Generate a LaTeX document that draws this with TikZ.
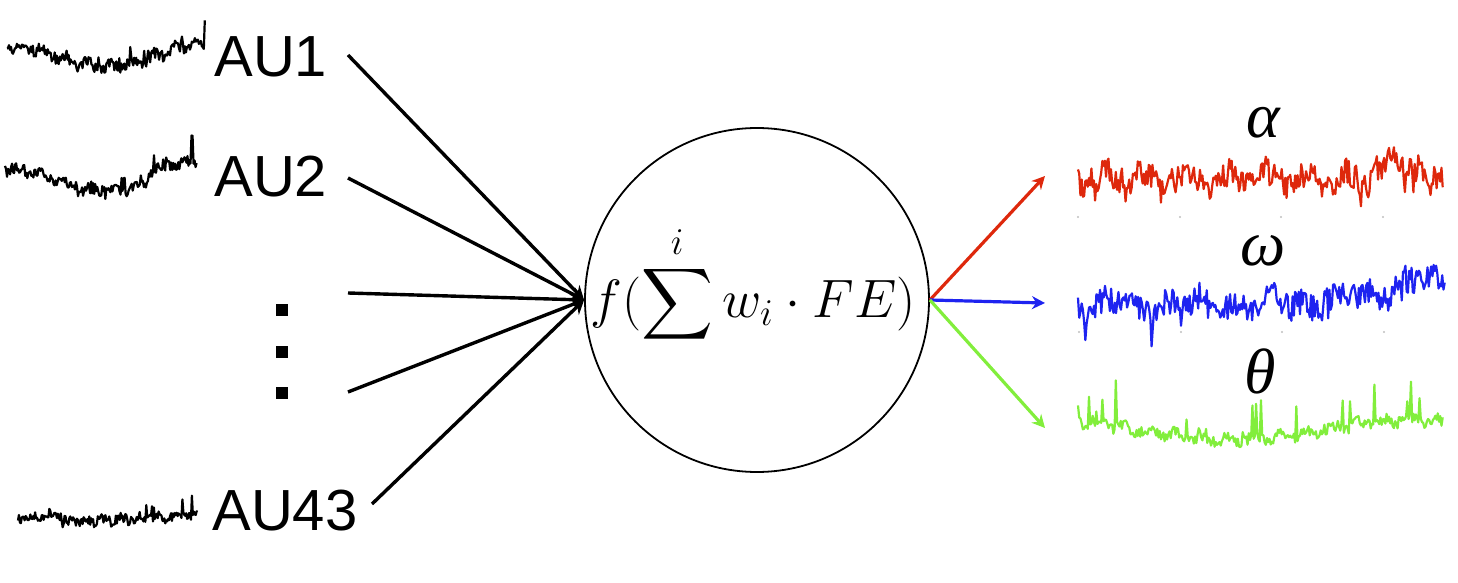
\RequirePackage{fix-cm}
\documentclass[tikz,border=0pt]{standalone}
\usepackage{amsmath}
\usepackage{fontspec}
\newfontfamily\ausans{Liberation Sans}
\newfontfamily\grk{Liberation Serif}
\usetikzlibrary{arrows.meta}
\definecolor{outred}{RGB}{222,40,12}
\definecolor{outblue}{RGB}{30,35,240}
\definecolor{outgreen}{RGB}{130,238,60}
\tikzset{
  sigL/.style={line width=1.1pt, line join=round, black},
  sigR/.style={line width=1.1pt, line join=round},
  aulabel/.style={anchor=base west, inner sep=0pt, font=\ausans\fontsize{29}{32}\selectfont},
  greek/.style={anchor=base, inner sep=0pt, font=\grk\itshape\fontsize{32}{36}\selectfont},
  sq/.style={fill=black, minimum size=6pt, inner sep=0pt},
  inarrow/.style={line width=1.7pt, -{Stealth[length=7pt,width=7pt]}},
  outarrow/.style={line width=1.6pt, -{Stealth[length=6.5pt,width=6.5pt]}},
  neuron/.style={circle, draw, line width=0.9pt, minimum size=172pt, inner sep=0pt},
  tick/.style={fill=gray!50},
}
\begin{document}
\begin{tikzpicture}[x=0.5pt,y=-0.5pt]
\useasboundingbox (0,0) rectangle (1458,583);
% neuron
\node[neuron] (N) at (757,300) {};
\node[inner sep=0pt, font=\fontsize{27}{30}\selectfont] (F) at (753,284) {$\displaystyle f(\sum^{i} w_i \cdot FE)$};
% input labels
\node[aulabel] (AU1) at (214,77) {AU1};
\node[aulabel] (AU2) at (214,197) {AU2};
\node[aulabel] (AU43) at (212,530) {AU43};
\node[sq] (d1) at (282,310) {};
\node[sq] (d2) at (282,352) {};
\node[sq] (d3) at (282,393) {};
% input signals
\pgfmathsetseed{11}
\draw[sigL] plot[domain=0:1,samples=200] ({7+198*\x},{56-11*cos(360*\x)+3*sin(360*9*\x+20)+6*rand-32*\x^2*max(0,rnd-0.88)*8.3});
\pgfmathsetseed{23}
\draw[sigL] plot[domain=0:1,samples=190] ({5+192*\x},{180-11*cos(360*\x)-7*(\x>0.74)+3*sin(360*8*\x+70)+6*rand-34*\x^2*max(0,rnd-0.88)*8.3});
\pgfmathsetseed{37}
\draw[sigL] plot[domain=0:1,samples=190] ({18+180*\x},{517+7*(\x>0.24)-8*\x+2*sin(360*10*\x)+5*rand-36*\x^3*max(0,rnd-0.86)*7.1});
% connectors in
\coordinate (s1) at (348,55);
\coordinate (s2) at (348,178);
\coordinate (s3) at (348,293);
\coordinate (s4) at (348,392);
\coordinate (s5) at (372,504);
\foreach \s in {s1,s2,s3,s4,s5} \draw[inarrow] (\s) -- (N.west);
% outputs
\coordinate (oa) at (1045,176);
\coordinate (ow) at (1045,303);
\coordinate (ot) at (1045,428);
\draw[outarrow, outred] (N.east) -- (oa);
\draw[outarrow, outblue] (N.east) -- (ow);
\draw[outarrow, outgreen] (N.east) -- (ot);
\node[greek] (ga) at (1263,138) {α};
\node[greek] (gw) at (1263,265) {ω};
\node[greek] (gt) at (1260,393) {θ};
% output signals
\pgfmathsetseed{5}
\draw[sigR, outred] plot[domain=0:1,samples=300] ({1078+365*\x},{178+6*sin(360*9*\x+30)+3*sin(360*23*\x)-12*(\x>0.8)*(\x<0.95)+13*rand+40*(0.3+0.7*\x^2)*max(0,rnd-0.9)*10});
\pgfmathsetseed{8}
\draw[sigR, outblue] plot[domain=0:1,samples=300] ({1078+367*\x},{303+5*sin(360*11*\x)+4*sin(360*5*\x+50)-24*max(0,\x-0.64)/0.36+14*rand+30*max(0,rnd-0.9)*10});
\pgfmathsetseed{17}
\draw[sigR, outgreen] plot[domain=0:1,samples=300] ({1078+365*\x},{430+10*cos(360*(\x-0.42))+3*sin(360*14*\x)+6*rand-44*max(0,rnd-0.93)*14.3});
% axis ticks
\foreach \xx in {1078,1180,1281,1383} {
  \fill[tick] (\xx,217) circle (0.6pt);
  \fill[tick] (\xx+1,332) circle (0.6pt);
}
\end{tikzpicture}
\end{document}
